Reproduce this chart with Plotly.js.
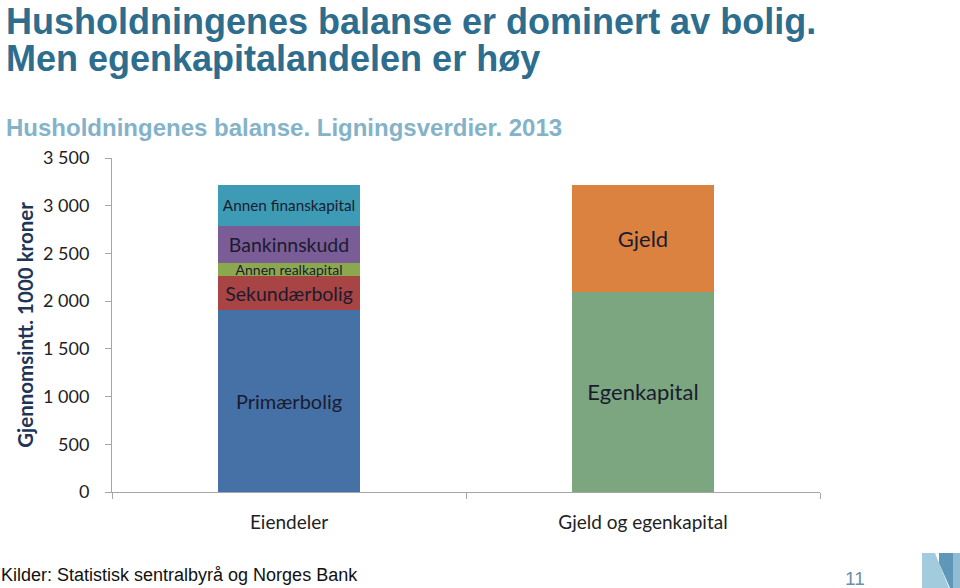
<!DOCTYPE html>
<html>
<head>
<meta charset="utf-8">
<script src="https://cdn.plot.ly/plotly-3.0.1.min.js"></script>
<style>html,body{margin:0;padding:0;background:#fff;}#chart{width:960px;height:588px;}</style>
</head>
<body>
<div id="chart"></div>
<script>
// Data (average, 1000 kroner, 2013)
const categories = ["Eiendeler", "Gjeld og egenkapital"];
const primaerbolig = [1905, null];
const sekundaerbolig = [358, null];
const annenRealkapital = [141, null];
const bankinnskudd = [385, null];
const annenFinanskapital = [427, null];
const egenkapital = [null, 2100];
const gjeld = [null, 1116];
const yTicks = [0, 500, 1000, 1500, 2000, 2500, 3000, 3500];

const seriesDefs = [
  {name: "Primærbolig", y: primaerbolig, color: "#4571A7", size: 20},
  {name: "Sekundærbolig", y: sekundaerbolig, color: "#A84443", size: 19.5},
  {name: "Annen realkapital", y: annenRealkapital, color: "#8CA84F", size: 14},
  {name: "Bankinnskudd", y: bankinnskudd, color: "#7A5D96", size: 19.5},
  {name: "Annen finanskapital", y: annenFinanskapital, color: "#3E9BB6", size: 15.3},
  {name: "Egenkapital", y: egenkapital, color: "#7BA680", size: 22},
  {name: "Gjeld", y: gjeld, color: "#DB8240", size: 22}
];

const traces = seriesDefs.map(s => ({
  type: "bar",
  name: s.name,
  x: categories,
  y: s.y,
  marker: {color: s.color, line: {width: 0}},
  text: s.y.map(v => v == null ? "" : s.name),
  textposition: "inside",
  insidetextanchor: "middle",
  constraintext: "none",
  textfont: {family: "Lato, 'Open Sans', sans-serif", size: s.size, color: "#1B1B2F"},
  hoverinfo: "none"
}));

const W = 708, H = 334, L = 112, T = 158;
const px = x => (x - L) / W;
const py = y => (T + H - y) / H;

const layout = {
  width: 960, height: 588,
  barmode: "stack",
  bargap: 0.6,
  showlegend: false,
  separators: ", ",
  paper_bgcolor: "#ffffff",
  plot_bgcolor: "#ffffff",
  margin: {l: 112, r: 140, t: 158, b: 96},
  font: {family: "Lato, 'Open Sans', sans-serif", color: "#222"},
  xaxis: {
    showgrid: false, zeroline: false,
    showline: true, linecolor: "#A6A6A6", linewidth: 1,
    ticks: "outside", tickson: "boundaries", ticklen: 6, tickcolor: "#A6A6A6",
    tickfont: {size: 19, color: "#222"},
    ticklabelstandoff: 13
  },
  yaxis: {
    range: [0, 3500],
    tickvals: yTicks,
    tickformat: ",d",
    showgrid: false, zeroline: false,
    showline: true, linecolor: "#A6A6A6", linewidth: 1,
    ticks: "outside", ticklen: 6, tickcolor: "#A6A6A6",
    tickfont: {size: 18, color: "#222"},
    ticklabelstandoff: 12,
    title: {text: "<b>Gjennomsintt. 1000 kroner</b>", font: {size: 20.5, color: "#1F3557"}, standoff: 3}
  },
  annotations: [
    {xref: "paper", yref: "paper", x: px(4), y: py(-1), xanchor: "left", yanchor: "top", showarrow: false,
     text: "<b>Husholdningenes balanse er dominert av bolig.</b>",
     font: {family: "'Liberation Sans', Arial, sans-serif", size: 36, color: "#2D6E8E"}},
    {xref: "paper", yref: "paper", x: px(4), y: py(36), xanchor: "left", yanchor: "top", showarrow: false,
     text: "<b>Men egenkapitalandelen er høy</b>",
     font: {family: "'Liberation Sans', Arial, sans-serif", size: 36, color: "#2D6E8E"}},
    {xref: "paper", yref: "paper", x: px(4), y: py(112), xanchor: "left", yanchor: "top", showarrow: false,
     text: "<b>Husholdningenes balanse. Ligningsverdier. 2013</b>",
     font: {family: "'Liberation Sans', Arial, sans-serif", size: 24, color: "#84B3C9"}},
    {xref: "paper", yref: "paper", x: px(-1), y: py(563), xanchor: "left", yanchor: "top", showarrow: false,
     text: "Kilder: Statistisk sentralbyrå og Norges Bank",
     font: {family: "'Liberation Sans', Arial, sans-serif", size: 18, color: "#111"}},
    {xref: "paper", yref: "paper", x: px(855), y: py(566), xanchor: "center", yanchor: "top", showarrow: false,
     text: "11",
     font: {family: "'Liberation Sans', Arial, sans-serif", size: 19, color: "#6F8FA6"}}
  ],
  shapes: [
    {type: "path", xref: "paper", yref: "paper",
     path: "M " + px(922) + " " + py(588) + " L " + px(922) + " " + py(553) + " L " + px(935) + " " + py(553) + " L " + px(949) + " " + py(588) + " Z",
     fillcolor: "#A3CBDE", line: {width: 0}},
    {type: "path", xref: "paper", yref: "paper",
     path: "M " + px(939) + " " + py(553) + " L " + px(953) + " " + py(553) + " L " + px(953) + " " + py(588) + " L " + px(950) + " " + py(588) + " L " + px(939) + " " + py(563) + " Z",
     fillcolor: "#5F97B8", line: {width: 0}},
    {type: "path", xref: "paper", yref: "paper",
     path: "M " + px(953) + " " + py(553) + " L " + px(960) + " " + py(553) + " L " + px(960) + " " + py(588) + " L " + px(953) + " " + py(588) + " Z",
     fillcolor: "#8FBCD3", line: {width: 0}}
  ]
};

Plotly.newPlot("chart", traces, layout, {displayModeBar: false, staticPlot: true});
</script>
</body>
</html>
